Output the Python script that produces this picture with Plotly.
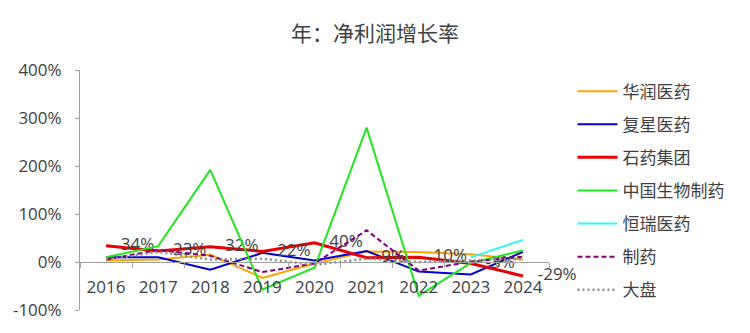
import plotly.graph_objects as go

years = ["2016", "2017", "2018", "2019", "2020", "2021", "2022", "2023", "2024"]

huarun = [3, 5, 15, -33, -3, 22, 21, 16, 5]
fuxing = [10, 10, -16, 19, 3, 23, -20, -26, 21]
shiyao = [34, 23, 32, 22, 40, 9, 10, -3, -29]
zhongsheng = [10, 33, 192, -57, -12, 280, -70, -2, 24]
hengrui = [None, None, None, None, None, None, None, 10, 46]
zhiyao = [5, 25, 13, -21, -3, 66, -18, 1, 11]
dapan = [5, 21, 5, 7, -6, 7, 0, 3, 6]

shiyao_labels = ["34%", "23%", "32%", "22%", "40%", "9%", "10%", "-3%", "-29%"]

y_ticks = [-100, 0, 100, 200, 300, 400]
y_ticktext = ["-100%", "0%", "100%", "200%", "300%", "400%"]

title_text = "年：净利润增长率"

FONT = "Open Sans, Noto Sans CJK SC, sans-serif"
TXT = "#404040"

series = [
    ("华润医药", huarun, "#FFA500", 2, "solid"),
    ("复星医药", fuxing, "#0000D0", 2, "solid"),
    ("石药集团", shiyao, "#E60000", 3, "solid"),
    ("中国生物制药", zhongsheng, "#22E622", 2, "solid"),
    ("恒瑞医药", hengrui, "#33F5F5", 2, "solid"),
    ("制药", zhiyao, "#800080", 2, "5px,3px"),
    ("大盘", dapan, "#8C8C8C", 2.5, "2px,3px"),
]

fig = go.Figure()
for i, (name, vals, color, width, dash) in enumerate(series):
    if name == "石药集团":
        kw = dict(mode="lines+markers+text", text=shiyao_labels, textposition="middle right",
                  marker=dict(size=22, color="rgba(0,0,0,0)", line=dict(width=0)),
                  textfont=dict(family=FONT, size=17, color=TXT))
    else:
        kw = dict(mode="lines")
    fig.add_trace(go.Scatter(
        x=years, y=vals, name=name, legendgroup=f"g{i}",
        line=dict(color=color, width=width, dash=dash),
        connectgaps=False, cliponaxis=False, **kw))

fig.update_layout(
    width=750, height=333,
    margin=dict(l=80, r=201, t=70, b=20),
    paper_bgcolor="white", plot_bgcolor="white",
    font=dict(family=FONT, size=17, color=TXT),
    title=dict(text=title_text, x=0.5, xref="container", xanchor="center",
               y=1 - 34 / 333, yref="container", yanchor="middle",
               font=dict(family="Noto Sans CJK SC", size=21, color=TXT)),
    showlegend=True,
    legend=dict(x=1.05, xanchor="left", y=0.985, yanchor="top",
                traceorder="grouped", tracegroupgap=8, itemwidth=40,
                maxheight=1.0,
                font=dict(family="Noto Sans CJK SC", size=17, color=TXT),
                bgcolor="rgba(0,0,0,0)"),
    xaxis=dict(type="category", anchor="free", position=0.2,
               range=[-0.5, len(years) - 0.5],
               showline=True, linecolor="#A0A0A0", linewidth=1,
               ticks="outside", ticklen=5, tickcolor="#A0A0A0",
               tickson="boundaries", showgrid=False, zeroline=False,
               ticklabelstandoff=10,
               tickfont=dict(family=FONT, size=17, color=TXT)),
    yaxis=dict(range=[-100, 400], tickvals=y_ticks, ticktext=y_ticktext,
               showline=True, linecolor="#A0A0A0", linewidth=1,
               ticks="outside", ticklen=4, tickcolor="#A0A0A0",
               showgrid=False, zeroline=False,
               ticklabelstandoff=10,
               tickfont=dict(family=FONT, size=17, color=TXT)),
)

fig.write_html("out.html")
